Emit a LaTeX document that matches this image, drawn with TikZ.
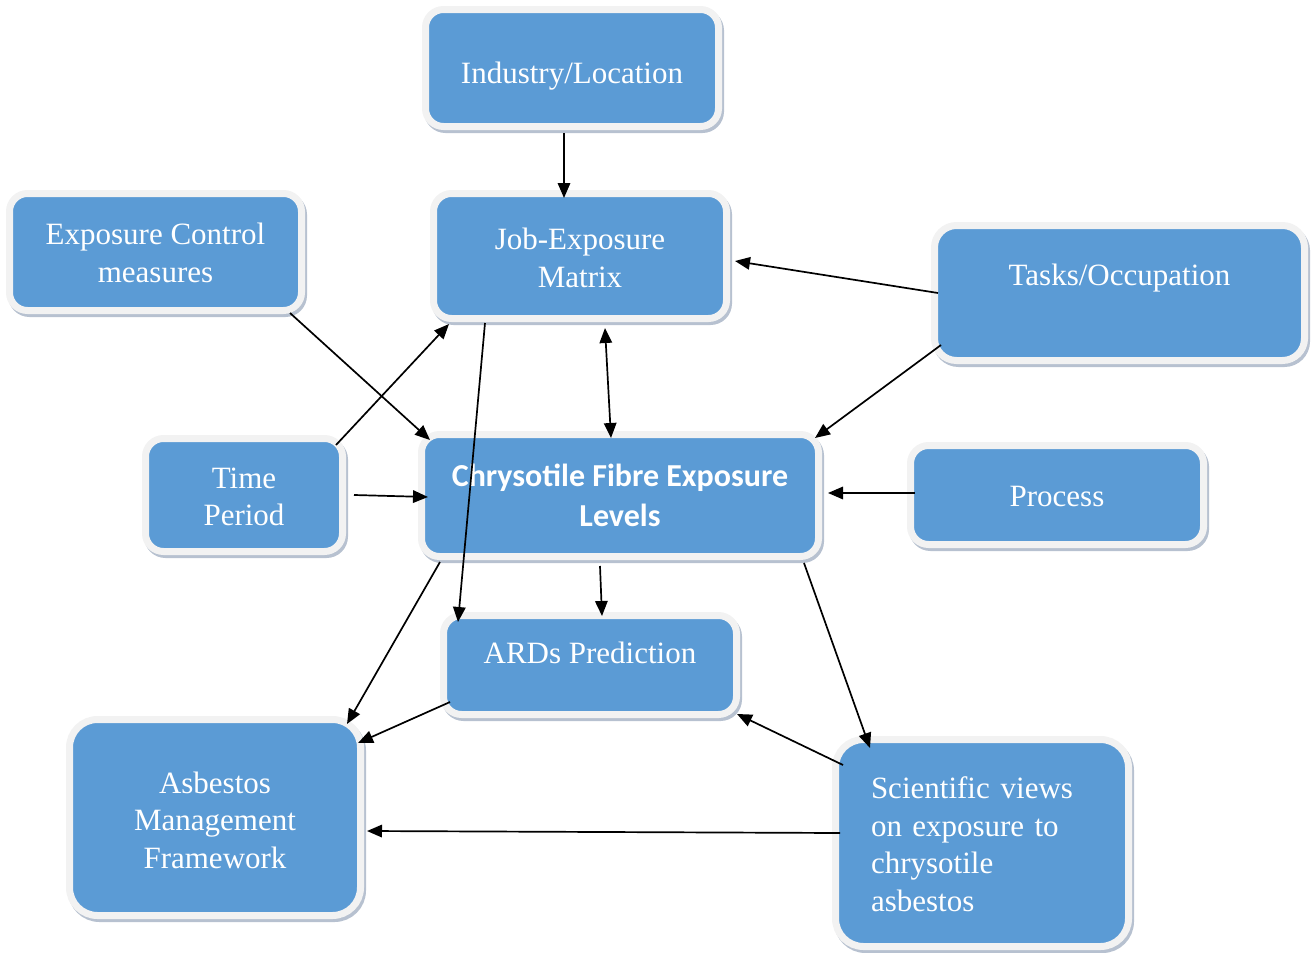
\documentclass[tikz,border=0pt]{standalone}
\usepackage{fontspec}
\setmainfont{Liberation Serif}
\newfontfamily\boldsans{Carlito}
\usetikzlibrary{arrows.meta,calc,shadows}
\definecolor{boxblue}{HTML}{5B9BD5}
\definecolor{rim}{HTML}{F2F2F2}
\definecolor{shade}{RGB}{165,178,196}
\begin{document}
\begin{tikzpicture}[x=1pt,y=-1pt,
  >={Triangle[length=15pt,width=12.5pt]},
  box/.style={rectangle, rounded corners=18pt, fill=boxblue, draw=rim, line width=7pt, inner sep=0pt,
    drop shadow={shadow xshift=2pt, shadow yshift=-3pt, draw=shade, line width=7pt, fill=shade, opacity=0.8}},
  bigbox/.style={box, rounded corners=28pt},
  txt/.style={text=white, font=\fontsize{31}{37.5}\selectfont, align=center, inner sep=0pt},
  conn/.style={line width=1.7pt, ->},
]
\useasboundingbox (0,0) rectangle (1315,953);

\node[box, minimum width=293pt, minimum height=117pt,
  label={[txt, name=ind-t, yshift=-8pt]center:Industry/Location}] (ind) at (572,68) {};
\node[box, minimum width=293pt, minimum height=125pt,
  label={[txt, name=jem-t, yshift=-2pt]center:Job-Exposure\\Matrix}] (jem) at (580,256) {};
\node[box, minimum width=292pt, minimum height=117pt,
  label={[txt, name=ecm-t, yshift=-1pt]center:Exposure Control\\measures}] (ecm) at (155.5,252) {};
\node[box, rounded corners=22pt, minimum width=370pt, minimum height=135pt,
  label={[txt, name=tasks-t, yshift=14.5pt]center:Tasks/Occupation}] (tasks) at (1119.5,293) {};
\node[box, minimum width=197pt, minimum height=113pt,
  label={[txt, name=time-t, yshift=-2pt]center:Time\\Period}] (time) at (244,495) {};
\node[box, minimum width=397pt, minimum height=122pt,
  label={[txt, name=chry-t, font=\boldsans\bfseries\fontsize{32}{40}\selectfont]center:Chrysotile Fibre Exposure\\Levels}] (chry) at (620,495.5) {};
\node[box, minimum width=293pt, minimum height=99pt,
  label={[txt, name=proc-t, yshift=-1.5pt]center:Process}] (proc) at (1057,495) {};
\node[box, minimum width=293pt, minimum height=99pt,
  label={[txt, name=ards-t, yshift=12.5pt]center:ARDs Prediction}] (ards) at (590,665) {};
\node[bigbox, minimum width=291pt, minimum height=196pt,
  label={[txt, name=amf-t, yshift=-2.5pt]center:Asbestos\\Management\\Framework}] (amf) at (215,817.5) {};
\node[bigbox, minimum width=293pt, minimum height=207pt,
  label={[txt, name=sci-t, yshift=-1pt, align=left, text width=222pt]center:Scientific\hspace{0.35em}views\\on exposure to\\chrysotile\\asbestos}] (sci) at (982,843) {};

% connectors
\draw[conn] ($(ind)+(-8,65)$) -- ($(jem)+(-16,-58)$);
\draw[conn] ($(tasks)+(-181.5,0)$) -- ($(jem)+(155,5)$);
\draw[conn] ($(tasks)+(-178.5,52)$) -- ($(chry)+(195,-57.5)$);
\draw[conn, <->] ($(jem)+(25,72)$) -- ($(chry)+(-9,-57.5)$);
\draw[conn] ($(ecm)+(134.5,61)$) -- ($(chry)+(-190,-55.5)$);
\draw[conn] ($(time)+(92,-50)$) -- ($(jem)+(-131,68)$);
\draw[conn] ($(time)+(110,0)$) -- ($(chry)+(-192,1.5)$);
\draw[conn] ($(jem)+(-95,67)$) -- ($(ards)+(-132,-43)$);
\draw[conn] ($(proc)+(-142,-2)$) -- ($(chry)+(208,-2.5)$);
\draw[conn] ($(chry)+(-20,70.5)$) -- ($(ards)+(12,-49)$);
\draw[conn] ($(chry)+(-180,66.5)$) -- ($(amf)+(132,-93.5)$);
\draw[conn] ($(ards)+(-140,37)$) -- ($(amf)+(143,-74.5)$);
\draw[conn] ($(sci)+(-139,-78)$) -- ($(ards)+(147,49)$);
\draw[conn] ($(chry)+(184,67.5)$) -- ($(sci)+(-112,-95)$);
\draw[conn] ($(sci)+(-142,-10)$) -- ($(amf)+(152,13.5)$);
\end{tikzpicture}
\end{document}
